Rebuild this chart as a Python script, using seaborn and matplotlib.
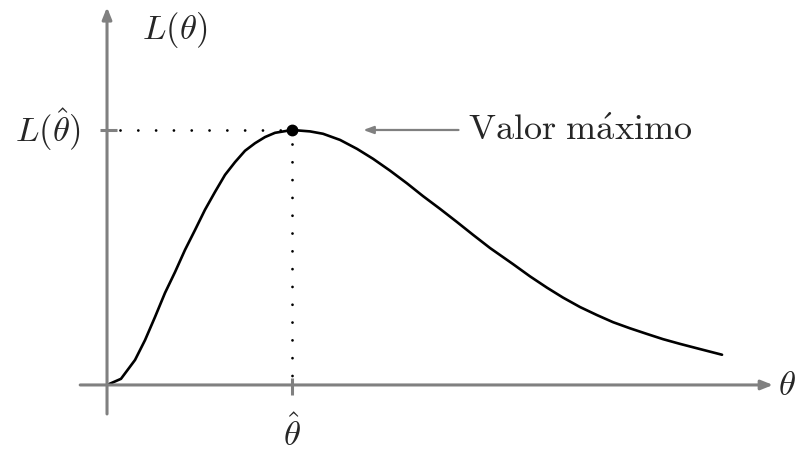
import matplotlib
matplotlib.use("Agg")
import matplotlib.pyplot as plt
import pandas as pd
import seaborn as sns

# Likelihood curve samples
theta = [0.000, 0.151, 0.303, 0.411, 0.519, 0.627, 0.735, 0.843, 0.951, 1.059,
         1.168, 1.276, 1.384, 1.492, 1.600, 1.708, 1.816, 2.000, 2.195, 2.335,
         2.519, 2.703, 2.876, 3.059, 3.243, 3.416, 3.600, 3.784, 3.957, 4.141,
         4.389, 4.573, 4.757, 4.930, 5.114, 5.297, 5.470, 5.654, 5.838, 6.011,
         6.195, 6.411, 6.649]
likelihood = [0.000, 0.013, 0.053, 0.095, 0.144, 0.195, 0.239, 0.286, 0.328, 0.371,
              0.409, 0.445, 0.472, 0.496, 0.512, 0.525, 0.534, 0.540, 0.537, 0.532,
              0.519, 0.500, 0.479, 0.454, 0.427, 0.400, 0.373, 0.345, 0.318, 0.290,
              0.256, 0.230, 0.206, 0.185, 0.165, 0.148, 0.133, 0.120, 0.108, 0.097,
              0.087, 0.076, 0.064]

theta_hat = 2.000
L_hat = 0.540

label_y = r"$L(\theta)$"
label_x = r"$\theta$"
label_Lhat = r"$L(\hat{\theta})$"
label_thetahat = r"$\hat{\theta}$"
label_max = r"$\mathrm{Valor\ m\acute{a}ximo}$"

df = pd.DataFrame({"theta": theta, "L": likelihood})

sns.set_style("white")
plt.rcParams["mathtext.fontset"] = "cm"

fig = plt.figure(figsize=(8.05, 4.53), dpi=100)
ax = fig.add_axes([0, 0, 1, 1])
ax.set_xlim(-1.157, 7.546)
ax.set_ylim(-0.1441, 0.8153)
ax.axis("off")

gray = "#808080"

# axes with arrow heads
ax.annotate("", xy=(7.20, 0), xytext=(-0.29, 0),
            arrowprops=dict(arrowstyle="-|>,head_length=0.7,head_width=0.28",
                            color=gray, lw=2.2, shrinkA=0, shrinkB=0))
ax.annotate("", xy=(0, 0.800), xytext=(0, -0.0614),
            arrowprops=dict(arrowstyle="-|>,head_length=0.7,head_width=0.28",
                            color=gray, lw=2.2, shrinkA=0, shrinkB=0))

# ticks at the maximum
ax.plot([-0.076, 0.108], [L_hat, L_hat], color=gray, lw=2.2, solid_capstyle="butt")
ax.plot([theta_hat, theta_hat], [0.0148, -0.0212], color=gray, lw=2.2,
        solid_capstyle="butt")

# dotted guides
ax.plot([0.14, theta_hat], [L_hat, L_hat], color="black", lw=2.0,
        linestyle=(0, (0.01, 6.4)), dash_capstyle="round")
ax.plot([theta_hat, theta_hat], [L_hat - 0.03, 0.02], color="black", lw=2.0,
        linestyle=(0, (0.01, 6.4)), dash_capstyle="round")

# the curve
sns.lineplot(data=df, x="theta", y="L", ax=ax, color="black", lw=1.9,
             sort=False, estimator=None)
ax.plot([theta_hat], [L_hat], "o", color="black", ms=7.5, zorder=5)

# arrow to the label
ax.annotate("", xy=(2.77, L_hat), xytext=(3.80, L_hat),
            arrowprops=dict(arrowstyle="-|>,head_length=0.6,head_width=0.22",
                            color=gray, lw=1.6, shrinkA=0, shrinkB=0))

fs = 25
ax.text(0.38, 0.752, label_y, fontsize=fs, ha="left", va="center")
ax.text(-0.29, L_hat, label_Lhat, fontsize=fs, ha="right", va="center")
ax.text(theta_hat, -0.104, label_thetahat, fontsize=fs, ha="center", va="center")
ax.text(7.25, 0.0, label_x, fontsize=fs, ha="left", va="center")
ax.text(3.90, L_hat, label_max, fontsize=26, ha="left", va="center")

fig.savefig("out.png", dpi=100)
